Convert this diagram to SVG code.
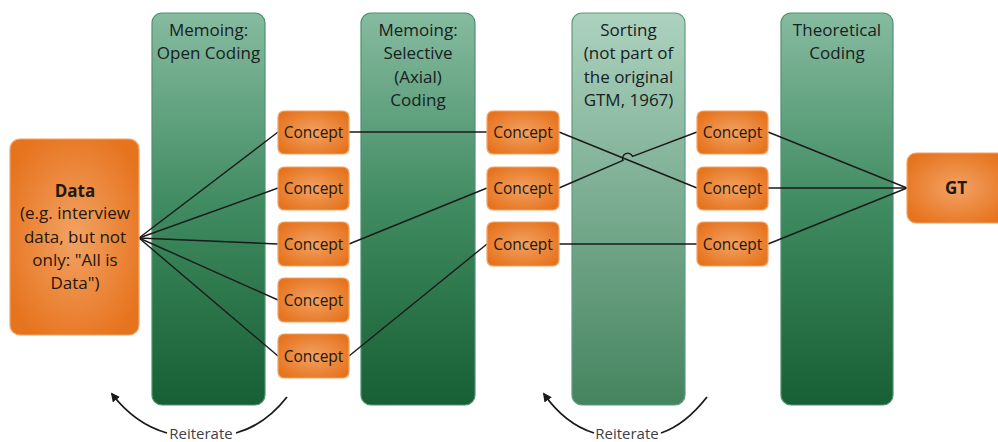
<svg xmlns="http://www.w3.org/2000/svg" width="998" height="442" viewBox="0 0 998 442">
<defs>
<linearGradient id="gCol" x1="0" y1="0" x2="0" y2="1">
<stop offset="0" stop-color="#86bba0"/>
<stop offset="0.5" stop-color="#3f8a60"/>
<stop offset="1" stop-color="#175f35"/>
</linearGradient>
<linearGradient id="gSort" x1="0" y1="0" x2="0" y2="1">
<stop offset="0" stop-color="#acd2bf"/>
<stop offset="1" stop-color="#45845f"/>
</linearGradient>
<radialGradient id="gOr" cx="0.5" cy="0.5" r="0.6">
<stop offset="0" stop-color="#f2a264"/>
<stop offset="1" stop-color="#e6731d"/>
</radialGradient>
<marker id="arr" viewBox="0 0 10 10" refX="8" refY="5" markerWidth="9" markerHeight="9" markerUnits="userSpaceOnUse" orient="auto-start-reverse">
<path d="M0,0 L10,5 L0,10 z" fill="#1a1a1a"/>
</marker>
<style>
.col{fill:url(#gCol);stroke:#4f9170;stroke-width:1.2}
.sort{fill:url(#gSort);stroke:#5f9c7c;stroke-width:1.2}
.box{fill:url(#gOr);stroke:#f2a46a;stroke-width:1.2}
.hd{font-family:"Open Sans","Liberation Sans",sans-serif;font-size:17px;fill:#17211f;text-anchor:middle}
.ct{font-family:"Open Sans","Liberation Sans",sans-serif;font-size:15.5px;fill:#24170c;text-anchor:middle}
.dt{font-family:"Open Sans","Liberation Sans",sans-serif;font-size:17px;fill:#24170c;text-anchor:middle}
.b{font-weight:bold}
.ln{fill:none;stroke:#1a1a1a;stroke-width:1.4}
.arc{fill:none;stroke:#1a1a1a;stroke-width:1.8}
.rt{font-family:"Open Sans","Liberation Sans",sans-serif;font-size:15px;fill:#3c3f4a;text-anchor:middle}
</style>
</defs>

<g id="col-open">
<rect class="col" x="152" y="13" width="113" height="392" rx="10"/>
<text class="hd" x="208.5" y="36">Memoing:</text>
<text class="hd" x="208.5" y="59">Open Coding</text>
</g>
<g id="col-selective">
<rect class="col" x="361" y="13" width="114" height="392" rx="10"/>
<text class="hd" x="418" y="36">Memoing:</text>
<text class="hd" x="418" y="59">Selective</text>
<text class="hd" x="418" y="83">(Axial)</text>
<text class="hd" x="418" y="106">Coding</text>
</g>
<g id="col-sorting">
<rect class="sort" x="572" y="13" width="113" height="392" rx="10"/>
<text class="hd" x="628.5" y="36">Sorting</text>
<text class="hd" x="628.5" y="59">(not part of</text>
<text class="hd" x="628.5" y="83">the original</text>
<text class="hd" x="628.5" y="106">GTM, 1967)</text>
</g>
<g id="col-theoretical">
<rect class="col" x="781" y="13" width="112" height="392" rx="10"/>
<text class="hd" x="837" y="36">Theoretical</text>
<text class="hd" x="837" y="59">Coding</text>
</g>

<g id="connectors">
<line class="ln" x1="139" y1="238" x2="278" y2="132"/>
<line class="ln" x1="139" y1="238" x2="278" y2="188"/>
<line class="ln" x1="139" y1="238" x2="278" y2="244"/>
<line class="ln" x1="139" y1="238" x2="278" y2="300"/>
<line class="ln" x1="139" y1="238" x2="278" y2="356"/>
<line class="ln" x1="349" y1="132" x2="487" y2="132"/>
<line class="ln" x1="349" y1="244" x2="487" y2="188"/>
<line class="ln" x1="349" y1="356" x2="487" y2="244"/>
<line class="ln" x1="559" y1="132" x2="697" y2="188"/>
<path class="ln" d="M559,188 L623,160.4 A5,5 0 0 1 632.5,156.3 L697,132"/>
<line class="ln" x1="559" y1="244" x2="697" y2="244"/>
<line class="ln" x1="768" y1="132" x2="907" y2="188"/>
<line class="ln" x1="768" y1="188" x2="907" y2="188"/>
<line class="ln" x1="768" y1="244" x2="907" y2="188"/>
<path class="arc" d="M287,397 Q265,425 236,433"/>
<path class="arc" d="M167,433 Q135,424 112,394" marker-end="url(#arr)"/>
<path class="arc" d="M707,397 Q685,425 661,433"/>
<path class="arc" d="M594,433 Q565,424 544,394" marker-end="url(#arr)"/>
<text class="rt" x="201" y="439">Reiterate</text>
<text class="rt" x="627" y="439">Reiterate</text>
</g>

<g id="data">
<rect class="box" x="10" y="139" width="129" height="196" rx="10"/>
<text class="dt b" x="75" y="197">Data</text>
<text class="dt" x="75" y="219">(e.g. interview</text>
<text class="dt" x="75" y="243">data, but not</text>
<text class="dt" x="75" y="266">only: "All is</text>
<text class="dt" x="75" y="289">Data")</text>
</g>

<g id="c1-1"><rect class="box" x="278" y="111" width="71" height="43" rx="6"/><text class="ct" x="313.5" y="138">Concept</text></g>
<g id="c1-2"><rect class="box" x="278" y="167" width="71" height="43" rx="6"/><text class="ct" x="313.5" y="194">Concept</text></g>
<g id="c1-3"><rect class="box" x="278" y="222" width="71" height="44" rx="6"/><text class="ct" x="313.5" y="250">Concept</text></g>
<g id="c1-4"><rect class="box" x="278" y="278" width="71" height="44" rx="6"/><text class="ct" x="313.5" y="306">Concept</text></g>
<g id="c1-5"><rect class="box" x="278" y="334" width="71" height="44" rx="6"/><text class="ct" x="313.5" y="362">Concept</text></g>

<g id="c2-1"><rect class="box" x="487" y="111" width="72" height="43" rx="6"/><text class="ct" x="523" y="138">Concept</text></g>
<g id="c2-2"><rect class="box" x="487" y="167" width="72" height="43" rx="6"/><text class="ct" x="523" y="194">Concept</text></g>
<g id="c2-3"><rect class="box" x="487" y="222" width="72" height="44" rx="6"/><text class="ct" x="523" y="250">Concept</text></g>

<g id="c3-1"><rect class="box" x="697" y="111" width="71" height="43" rx="6"/><text class="ct" x="732.5" y="138">Concept</text></g>
<g id="c3-2"><rect class="box" x="697" y="167" width="71" height="43" rx="6"/><text class="ct" x="732.5" y="194">Concept</text></g>
<g id="c3-3"><rect class="box" x="697" y="222" width="71" height="44" rx="6"/><text class="ct" x="732.5" y="250">Concept</text></g>

<g id="gt">
<rect class="box" x="907" y="153" width="100" height="70" rx="9"/>
<text class="dt b" x="956" y="194">GT</text>
</g>
</svg>
